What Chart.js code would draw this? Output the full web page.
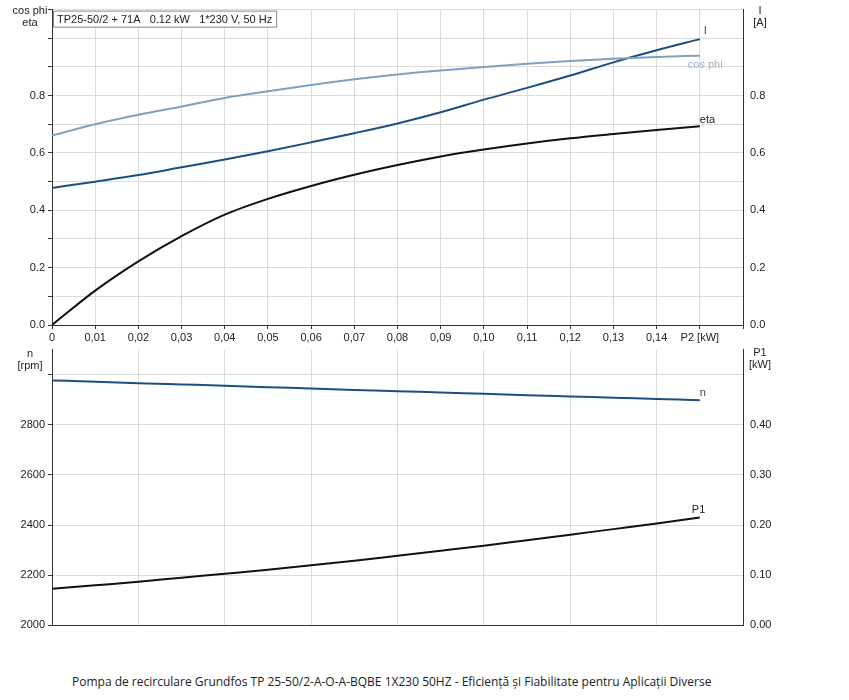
<!DOCTYPE html>
<html><head><meta charset="utf-8">
<script src="https://cdn.jsdelivr.net/npm/chart.js@4"></script>
<style>
body{margin:0;background:#fff;width:849px;height:700px;position:relative;font-family:"Liberation Sans",Arial,sans-serif}
#c1{position:absolute;left:0;top:0}
#c2{position:absolute;left:0;top:340px}
#cap{position:absolute;left:72px;top:673px;white-space:nowrap;font:12px "Open Sans",sans-serif;color:#222}
</style></head><body>
<canvas id="c1" width="849" height="345"></canvas>
<canvas id="c2" width="849" height="295"></canvas>
<div id="cap">Pompa de recirculare Grundfos TP 25-50/2-A-O-A-BQBE 1X230 50HZ - Eficiență și Fiabilitate pentru Aplicații Diverse</div>
<script>
const p2 = [0,0.01,0.02,0.03,0.04,0.05,0.06,0.07,0.08,0.09,0.10,0.11,0.12,0.13,0.14,0.15];
const cosPhi = [0.661,0.700,0.733,0.762,0.792,0.815,0.837,0.857,0.874,0.888,0.900,0.911,0.921,0.929,0.935,0.939];
const currentA = [0.478,0.500,0.523,0.550,0.577,0.606,0.637,0.669,0.703,0.742,0.786,0.827,0.870,0.916,0.958,0.997];
const eta = [0,0.120,0.222,0.310,0.385,0.440,0.485,0.524,0.558,0.588,0.612,0.633,0.651,0.666,0.680,0.693];
const speed = [2977,2972,2966,2961,2956,2950,2945,2939,2934,2929,2924,2918,2913,2908,2903,2898];
const p1 = [0.073,0.080,0.087,0.095,0.103,0.111,0.120,0.129,0.139,0.149,0.159,0.170,0.181,0.192,0.203,0.215];
const xTickLast = 0.15;
const pts = a => a.map((v,i)=>({x:p2[i],y:v}));
const F = '11px "Liberation Sans", Arial, sans-serif';
const blue='#1d4f7e', light='#7da2c1', dark='#111';

function textPlugin(items){
  return {id:'txt',afterDraw(ch){
    const c=ch.ctx; c.save();
    items.forEach(t=>{
      c.font=F; c.fillStyle=t.color||'#222'; c.textAlign=t.align||'left'; c.textBaseline='middle';
      let x=t.x, y=t.y;
      if(t.dx!==undefined){ x=ch.scales.x.getPixelForValue(t.dx)+(t.ox||0); y=ch.scales[t.axis].getPixelForValue(t.dy)+(t.oy||0); }
      c.fillText(t.s,x,y);
    });
    if(ch.canvas.id==='c1'){
      const s='TP25-50/2 + 71A   0.12 kW   1*230 V, 50 Hz';
      c.font=F; const w=c.measureText(s).width+8;
      const l=ch.chartArea.left+1, tp=ch.chartArea.top+1;
      c.fillStyle='#fff'; c.fillRect(l,tp,w,16);
      c.strokeStyle='#888'; c.lineWidth=1; c.strokeRect(l+0.5,tp+0.5,w,16);
      c.fillStyle='#222'; c.textAlign='left'; c.fillText(s,l+4,tp+9);
    }
    c.restore();
  }};
}
const ds=(d,col,w,ax)=>({data:pts(d),borderColor:col,borderWidth:w,pointRadius:0,cubicInterpolationMode:'monotone',yAxisID:ax,fill:false});
const fmtX=v=>{ if(Math.abs(v-xTickLast)<1e-6) return 'P2 [kW]'; if(v>xTickLast+1e-6) return ''; return v===0?'0':v.toFixed(2).replace('.',','); };

new Chart(document.getElementById('c1'),{
  type:'line',
  data:{datasets:[ds(cosPhi,light,2,'y'),ds(currentA,blue,2,'y1'),ds(eta,dark,2,'y')]},
  options:{responsive:false,animation:false,layout:{padding:{top:8}},
    plugins:{legend:{display:false},tooltip:{enabled:false}},
    scales:{
      x:{type:'linear',min:0,max:0.16,afterFit:s=>{s.height=20},
        afterBuildTicks:s=>{s.ticks=[];for(let i=0;i<=16;i++)s.ticks.push({value:i/100});},
        ticks:{font:{size:11,family:'Liberation Sans'},color:'#222',callback:fmtX,maxRotation:0,autoSkip:false,padding:2},
        grid:{color:'#dcdcdc',tickColor:'#333',tickLength:4},border:{color:'#333'}},
      y:{min:0,max:1.1,afterFit:s=>{s.width=52},
        afterBuildTicks:s=>{s.ticks=[];for(let i=0;i<=11;i++)s.ticks.push({value:i/10});},
        ticks:{font:{size:11,family:'Liberation Sans'},color:'#222',callback:v=>{const k=Math.round(v*10);return (k%2===0&&k<=8)?v.toFixed(1):'';}},
        grid:{color:'#dcdcdc',tickColor:'#333',tickLength:4},border:{color:'#333'}},
      y1:{position:'right',min:0,max:1.1,afterFit:s=>{s.width=106},
        afterBuildTicks:s=>{s.ticks=[];for(let i=0;i<=11;i++)s.ticks.push({value:i/10});},
        ticks:{font:{size:11,family:'Liberation Sans'},color:'#222',callback:v=>{const k=Math.round(v*10);return (k%2===0&&k<=8)?v.toFixed(1):'';}},
        grid:{display:false,tickColor:'#333',tickLength:4},border:{color:'#333'}}
    }},
  plugins:[textPlugin([
    {s:'cos phi',x:30,y:11,align:'center'},{s:'eta',x:30,y:23,align:'center'},
    {s:'I',x:760,y:11,align:'center'},{s:'[A]',x:760,y:23,align:'center'},
    {s:'I',dx:0.15,dy:currentA[15],axis:'y1',ox:4,oy:-8,color:blue},
    {s:'cos phi',dx:0.15,dy:cosPhi[15],axis:'y',ox:-12,oy:9,color:'#9bb4c8'},
    {s:'eta',dx:0.15,dy:eta[15],axis:'y',ox:0,oy:-6,color:'#222'}
  ])]
});

new Chart(document.getElementById('c2'),{
  type:'line',
  data:{datasets:[ds(speed,blue,2,'y'),ds(p1,dark,2,'y1')]},
  options:{responsive:false,animation:false,layout:{padding:{top:8}},
    plugins:{legend:{display:false},tooltip:{enabled:false}},
    scales:{
      x:{type:'linear',min:0,max:0.16,afterFit:s=>{s.height=8},
        afterBuildTicks:s=>{s.ticks=[];for(let i=0;i<=8;i++)s.ticks.push({value:i*0.02});},
        ticks:{display:false},grid:{color:'#dcdcdc',drawTicks:false},border:{color:'#333'}},
      y:{min:2000,max:3100,afterFit:s=>{s.width=52},
        afterBuildTicks:s=>{s.ticks=[];for(let v=2000;v<=3000;v+=200)s.ticks.push({value:v});},
        ticks:{font:{size:11,family:'Liberation Sans'},color:'#222',callback:v=>v<=2800?String(v):''},
        grid:{color:'#dcdcdc',tickColor:'#333',tickLength:4},border:{color:'#333'}},
      y1:{position:'right',min:0,max:0.55,afterFit:s=>{s.width=106},
        afterBuildTicks:s=>{s.ticks=[];for(let i=0;i<=4;i++)s.ticks.push({value:i/10});},
        ticks:{font:{size:11,family:'Liberation Sans'},color:'#222',callback:v=>v.toFixed(2)},
        grid:{display:false,tickColor:'#333',tickLength:4},border:{color:'#333'}}
    }},
  plugins:[textPlugin([
    {s:'n',x:30,y:14,align:'center'},{s:'[rpm]',x:30,y:26,align:'center'},
    {s:'P1',x:760,y:13,align:'center'},{s:'[kW]',x:760,y:25,align:'center'},
    {s:'n',dx:0.15,dy:speed[15],axis:'y',ox:0,oy:-7,color:'#444'},
    {s:'P1',dx:0.15,dy:p1[15],axis:'y1',ox:-8,oy:-8,color:'#222'}
  ])]
});
</script></body></html>
